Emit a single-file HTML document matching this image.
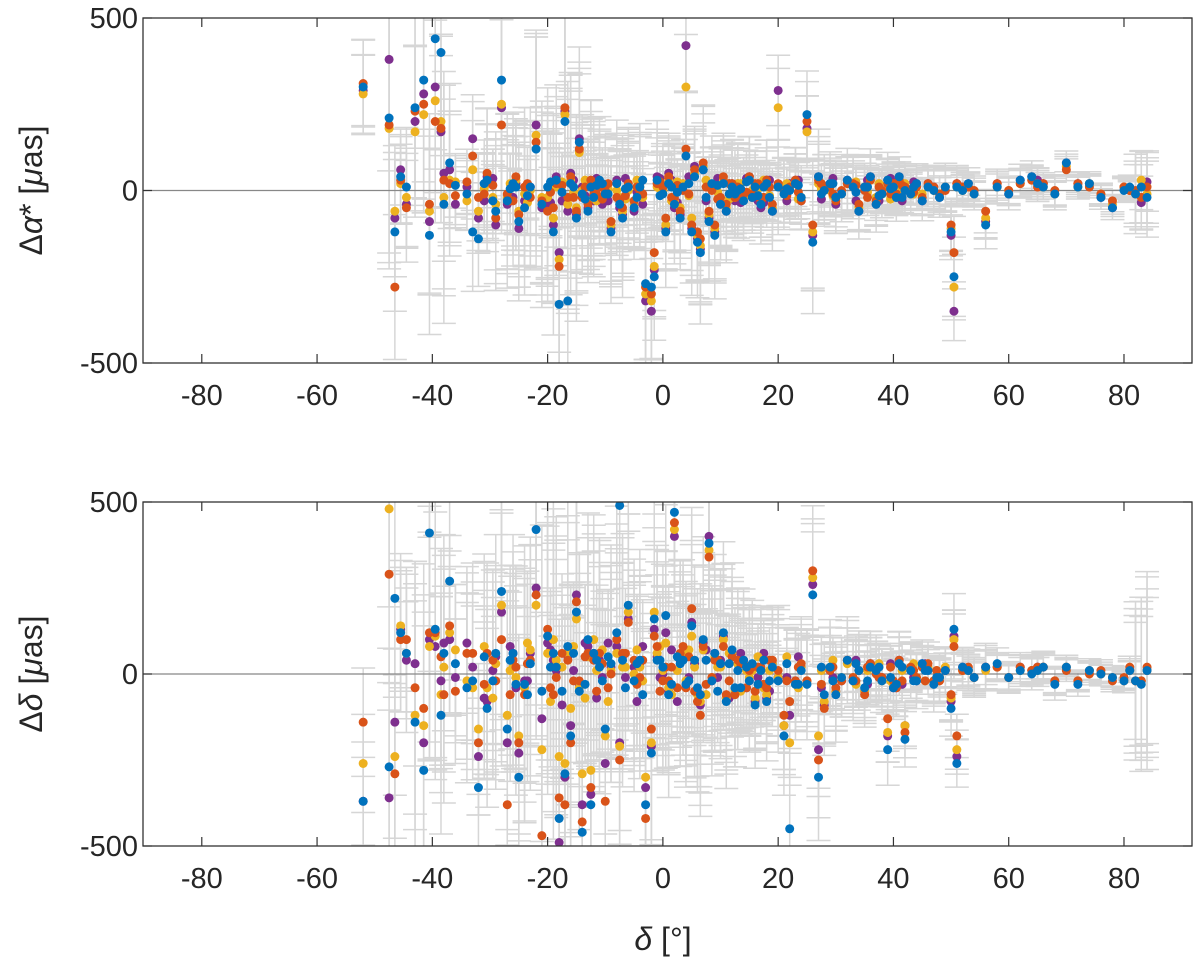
<!DOCTYPE html>
<html><head><meta charset="utf-8">
<style>
html,body{margin:0;padding:0;background:#fff;}
svg{display:block;font-family:"Liberation Sans",sans-serif;}
</style></head>
<body>
<svg id="chart" width="1200" height="965" viewBox="0 0 1200 965" xmlns="http://www.w3.org/2000/svg"></svg>
<script>
const dec=[-52,-47.5,-46.5,-45.5,-44.5,-43,-41.5,-40.5,-39.5,-38.5,-38,-37,-33,-32,-30.5,-29,-28,-27,-26,-25.5,-25,-24,-23,-22,-21,-20,-19,-18.5,-18,-17,-16.5,-16,-15,-14.5,-14,-13,-12.5,-12,-11,-10,-9,-8,-7.5,-7,-6,-5,-4,-3,-2,-1.5,-1,0,0.5,1,2,3,3.5,4,5,5.5,6,6.5,7,8,8.5,9,10,10.5,11,12,12.5,13,14,15,15.5,16,17,18,19,20,21,22,23,24,25,26,27,28,29,30,31,32,33,34,35,36,37,38,39,40,40.5,41,42,43,44,45,46,47,48,49,50,50.5,51,52,53,54,56,58,60,62,64,65,66,68,70,72,74,76,78,80,81,82,83,84,
-36,-34,-31,-29.5,-26.5,-23.5,-19.5,-17.5,-15.5,-13.5,-11.5,-10.5,-9.5,-6.5,-4.5,-3.5,-0.5,1.5,2.5,4.5,7.5,9.5,11.5,13.5,14.5,16.5,17.5,18.5,21.5,23.5,27.5,29.5,33.5,35.5,37.5,39.5,41.5,43.5,45.5,47.5];
const raB=[300,210,-120,40,10,240,320,-130,440,400,-40,80,-120,-140,30,-60,320,-30,20,10,-90,-50,10,120,-40,10,-120,30,-330,200,-320,20,-80,140,-10,-60,10,-20,30,-10,-120,20,-40,-80,10,-50,10,-270,-280,-250,30,-10,-120,20,-40,-80,10,100,-120,40,-150,-180,60,-90,20,-130,-40,20,-60,10,-10,0,-30,30,-20,10,-40,20,-60,10,-10,0,20,-20,220,-150,40,0,20,-20,-10,30,10,-60,10,40,-40,-10,30,10,-20,40,0,-10,20,-30,10,0,-20,10,-120,-250,10,0,20,-10,-100,10,-10,30,40,20,10,-10,80,10,20,-20,-50,0,10,-10,
10,-20,15,-10,20,-30,5,-15,25,-5,10,-25,15,20,-10,5,-20,30,-15,10,-5,20,-20,15,-10,5,25,-15,10,-20,5,15,-10,20,-5,10,-15,5,-20,10];
const raR=[310,190,-280,30,-50,230,250,-40,200,180,30,20,100,-20,50,-80,190,-10,-30,40,-70,10,-20,140,-30,-60,-50,20,-220,240,-20,40,-60,120,-20,-40,30,-10,10,0,-90,-20,-30,-50,20,-30,0,-280,-300,-180,20,10,-80,40,-20,-60,0,120,-100,60,-120,-140,80,-60,0,-100,-20,40,-40,20,-20,10,-10,40,-10,20,-30,30,-40,20,0,10,30,-30,200,-100,30,10,10,-30,0,20,20,-40,0,30,-30,0,20,20,-10,30,10,0,10,-20,20,10,-10,0,-100,-180,20,10,10,0,-60,20,0,20,30,10,20,0,60,20,10,-10,-30,10,0,0,
-20,10,-15,25,-10,15,-30,20,-5,15,-20,10,-10,-25,20,-15,10,-10,25,-20,15,-10,10,-25,20,-15,-5,20,-20,10,-15,-5,20,-10,15,-20,10,-10,15,-5];
const raY=[280,180,-60,20,-20,170,220,-60,260,200,-20,30,60,-60,20,-40,250,-20,10,30,-60,-10,0,160,-20,-20,-80,10,-200,220,-40,30,-50,110,0,-30,20,0,20,10,-100,0,-20,-60,0,-40,10,-300,-320,-220,10,0,-100,30,-30,-50,20,300,-80,50,-130,-160,70,-70,10,-110,-30,30,-50,10,-20,20,-20,30,0,10,-20,10,-50,240,10,10,20,-20,170,-120,20,0,0,-20,-10,20,10,-50,10,30,-20,-10,10,10,-10,30,20,-10,10,-10,10,0,-10,10,-110,-280,10,0,10,-10,-80,10,0,20,30,20,10,-10,70,10,20,-10,-40,10,0,-10,
30,-10,25,-30,5,-20,20,-35,10,25,-5,30,-30,10,5,-25,30,-20,5,-30,25,-15,30,-5,-25,20,-10,5,30,-15,20,-25,5,-15,25,-5,20,-25,5,-10];
const raP=[290,380,-80,60,-40,200,280,-90,300,170,50,60,150,-80,40,-100,240,-40,-20,20,-110,-30,10,190,-50,-40,-100,40,-180,230,-60,50,-70,150,10,-50,20,-30,20,-10,-110,30,-50,-70,10,-60,20,-320,-350,-230,40,0,-110,50,-50,-70,20,420,-110,70,-140,-170,60,-80,10,-120,-40,30,-60,20,-30,20,-20,40,-20,10,-50,30,-60,290,0,20,30,-30,180,-130,40,10,20,-40,-10,30,10,-60,10,40,-40,-10,30,20,-20,40,10,-10,20,-30,20,10,-20,10,-130,-350,20,10,20,-10,-90,20,-10,30,40,30,20,-10,80,20,20,-20,-50,10,0,-10,
-35,25,-40,10,-30,35,-20,5,-35,-30,30,-15,35,-40,-30,35,-5,-40,35,30,-35,40,-30,35,20,-35,35,-30,-35,30,-30,30,-25,35,-30,30,-30,35,-30,25];
const raE=[120,380,200,120,150,260,300,250,280,260,300,200,150,120,180,200,300,220,180,160,200,220,200,300,260,250,260,240,340,320,320,280,260,240,200,180,220,200,160,150,180,160,140,200,150,130,160,200,180,160,150,120,140,120,150,130,120,160,160,120,140,180,160,150,120,160,140,120,130,120,110,120,100,110,90,90,100,110,100,120,90,80,90,80,110,180,120,90,80,90,70,80,80,70,60,70,70,60,70,60,60,50,60,50,50,50,50,60,50,60,70,100,50,40,40,40,60,40,40,40,40,40,30,40,30,30,30,30,30,30,30,
100,90,100,80,90,110,100,90,100,120,90,80,100,80,90,70,80,90,70,80,90,70,80,70,60,70,60,80,60,60,60,50,60,50,50,50,50,40,40,40];
const deB=[-370,-270,220,120,60,-140,-280,410,130,-120,60,270,-20,-330,-100,60,240,-160,60,-30,-300,-30,30,420,-50,110,60,20,-420,-290,80,-180,180,-50,-460,100,-380,60,20,-160,30,120,490,40,200,-20,40,-380,-230,160,40,20,170,-60,470,30,40,-30,140,40,-40,-60,100,380,-20,60,30,120,-80,70,-40,10,40,-20,30,-90,10,-80,20,-20,-180,-450,-30,10,-30,230,-300,-60,20,-60,-10,40,-20,10,-40,20,10,-20,-220,-40,-30,30,-190,10,-20,30,10,-30,-10,10,-100,130,-260,20,10,-10,20,30,-10,10,0,10,20,-30,20,-30,10,0,-10,-20,10,-20,-30,10,
30,-40,50,-20,40,-60,20,-50,60,-30,40,-20,50,-40,30,-60,40,-30,50,-20,40,-50,30,-40,20,-30,40,-20,30,-30,20,-20,30,-20,20,-10,20,-20,10,-10];
const deR=[-140,290,-290,100,100,-40,-100,120,120,50,-60,140,60,-200,60,-20,100,-380,40,20,-200,-60,40,230,-470,130,-60,-10,-360,-380,40,-200,210,-20,-430,60,-330,40,60,-370,0,100,-250,60,150,40,-10,-420,-160,110,80,-20,20,-20,440,60,80,-40,190,-50,-80,-120,80,340,-10,40,30,80,-60,50,-60,40,30,10,20,-50,20,-40,40,10,-120,-80,-20,30,-20,300,-250,-100,10,-40,-20,40,-10,10,-60,30,0,-10,-130,-20,-40,40,-170,20,-10,20,30,-20,-20,10,-60,80,-180,10,20,-10,20,20,-10,20,10,20,20,-20,10,-20,0,10,-20,-10,20,-20,-20,20,
-50,60,-30,40,-60,30,-40,60,-20,50,-50,30,-40,60,-30,40,-50,20,-40,50,-30,40,-20,30,-40,20,-30,40,-20,20,-30,20,-20,20,-10,20,-20,10,-20,10];
const deY=[-260,480,-240,140,60,-120,-150,80,110,-60,20,120,-40,-160,-40,30,200,-120,20,-10,-180,-40,70,200,-220,60,100,40,-240,-260,60,-100,160,-40,-290,50,-280,100,20,-180,10,60,-210,20,180,0,20,-300,-200,180,60,10,90,-40,420,50,60,-20,110,20,-60,-80,70,360,-10,50,20,100,-70,60,-50,30,30,-10,10,-70,10,-60,30,-10,-150,-200,-30,20,-20,280,-180,-80,20,-50,-10,30,-10,10,-50,20,10,-20,-170,-30,-30,30,-150,20,-10,20,20,-20,-10,20,-70,100,-220,10,10,-10,10,20,-10,10,10,10,20,-20,20,-20,10,0,-10,-20,10,-20,-20,10,
70,-20,80,-70,10,90,-80,20,80,-70,10,70,-80,20,70,-20,80,-60,10,70,-60,20,60,-50,10,50,-40,10,50,-40,10,40,-30,10,30,-20,10,30,-20,10];
const deP=[-370,-360,-140,130,40,30,-200,100,80,-20,90,100,20,-240,-80,50,180,-200,60,-40,-230,-20,60,250,-130,90,40,10,-490,-300,50,-150,230,-30,-380,80,-350,60,40,-260,20,80,-200,50,160,20,30,-330,-210,130,50,0,120,-50,400,40,50,-30,150,30,-50,-90,90,400,-20,60,40,110,-70,60,-50,30,40,-20,20,-80,10,-70,30,-10,-150,-120,-20,20,-20,260,-220,-90,10,-50,-20,40,-20,10,-50,30,10,-10,-180,-40,-40,40,-150,10,-20,30,20,-20,-10,10,-80,110,-240,20,10,-10,20,20,-10,20,10,20,20,-20,20,-20,10,0,-10,-20,10,-20,-20,10,
-10,90,-70,10,80,-20,70,-90,10,90,-70,-10,90,-10,-80,80,-10,70,-80,-10,70,-10,-70,60,-40,-10,60,-50,-10,50,-40,-10,40,-30,-10,30,-30,-10,30,-20];
const deE=[150,300,250,200,200,350,400,350,380,300,300,250,250,200,250,300,350,350,300,280,300,350,320,400,420,400,400,380,420,420,400,380,380,350,350,320,350,350,320,300,300,320,300,320,300,280,280,350,320,300,280,260,280,260,300,260,240,260,280,240,250,280,260,280,240,250,240,230,220,220,200,200,180,180,160,160,160,150,150,180,150,130,140,130,140,180,160,130,120,120,100,110,100,100,90,90,90,80,90,80,80,80,70,70,70,60,60,70,60,60,70,90,60,50,50,50,60,40,40,40,40,40,40,40,30,30,30,30,30,30,30,
200,220,250,200,240,260,250,240,220,200,220,180,200,190,180,170,180,170,160,160,150,140,140,130,130,120,120,110,100,100,90,90,80,80,70,70,60,60,60,60];
const xTicks=[-80,-60,-40,-20,0,20,40,60,80];
const yTicks=[-500,0,500];

const NS='http://www.w3.org/2000/svg';
const svg=document.getElementById('chart');
const X0=143,X1=1192,XMIN=-90.2,XMAX=91.8;
function xs(v){return X0+(v-XMIN)/(XMAX-XMIN)*(X1-X0);}
function mk(tag,attrs,parent){const e=document.createElementNS(NS,tag);for(const k in attrs)e.setAttribute(k,attrs[k]);(parent||svg).appendChild(e);return e;}
const colors=['#7E2F8E','#EDB120','#D95319','#0072BD'];
const seriesNames=['series-purple','series-yellow','series-red','series-blue'];

function panel(top,bot,vals,err,name,labelParts){
  const g=mk('g',{});
  
  
  const ys=v=>top+(500-v)/1000*(bot-top);
  mk('rect',{x:X0,y:top,width:X1-X0,height:bot-top,fill:'#fff'},g);
  const eg=mk('g',{stroke:'#d6d6d6','stroke-width':1.5},g);
  
  
  const cp=mk('clipPath',{id:'c'+name},g);
  mk('rect',{x:X0,y:top,width:X1-X0,height:bot-top},cp);
  eg.setAttribute('clip-path','url(#c'+name+')');
  for(let s=0;s<4;s++){const arr=vals[s];for(let i=0;i<dec.length;i++){if(arr[i]===undefined||err[i]===undefined)continue;
    const x=xs(dec[i]),e=err[i]*(0.85+0.1*s);const y1=ys(arr[i]-e),y2=ys(arr[i]+e);
    mk('line',{x1:x,x2:x,y1:y1,y2:y2},eg);
    mk('line',{x1:x-12,x2:x+12,y1:y1,y2:y1},eg);
    mk('line',{x1:x-12,x2:x+12,y1:y2,y2:y2},eg);}}
  mk('line',{x1:X0,x2:X1,y1:ys(0),y2:ys(0),stroke:'#888','stroke-width':1.2},g);
  for(let s=0;s<4;s++){const sg=mk('g',{fill:colors[s],'clip-path':'url(#c'+name+')'},g);
    
    
    const arr=vals[s];for(let i=0;i<dec.length;i++){if(arr[i]===undefined)continue;
      const c=mk('circle',{cx:xs(dec[i]),cy:ys(arr[i]),r:4.5},sg);
      
      }}
  mk('rect',{x:X0,y:top,width:X1-X0,height:bot-top,fill:'none',stroke:'#333','stroke-width':1.3},g);
  for(const t of xTicks){const x=xs(t);mk('line',{x1:x,x2:x,y1:bot,y2:bot-9,stroke:'#333','stroke-width':1.2},g);mk('line',{x1:x,x2:x,y1:top,y2:top+9,stroke:'#333','stroke-width':1.2},g);
    const tx=mk('text',{x:x,y:bot+42,'text-anchor':'middle','font-size':29,fill:'#262626'},g);tx.textContent=String(t);
    
    }
  for(const t of yTicks){const y=ys(t);mk('line',{x1:X0,x2:X0+9,y1:y,y2:y,stroke:'#333','stroke-width':1.2},g);mk('line',{x1:X1,x2:X1-9,y1:y,y2:y,stroke:'#333','stroke-width':1.2},g);
    const tx=mk('text',{x:138,y:y+10,'text-anchor':'end','font-size':29,fill:'#262626'},g);tx.textContent=String(t);
    
    }
  const yl=mk('text',{transform:'translate(42,'+((top+bot)/2)+') rotate(-90)','text-anchor':'middle','font-size':32,fill:'#262626'},g);
  
  
  yl.innerHTML=labelParts;
}
panel(18,363,[raP,raY,raR,raB],raE,'top-panel-ra','Δ<tspan font-style="italic">α</tspan>* [<tspan font-style="italic">μ</tspan>as]');
panel(502,846,[deP,deY,deR,deB],deE,'bottom-panel-dec','Δ<tspan font-style="italic">δ</tspan> [<tspan font-style="italic">μ</tspan>as]');
const xl=mk('text',{x:663,y:950,'text-anchor':'middle','font-size':32,fill:'#262626'});


xl.innerHTML='<tspan font-style="italic">δ</tspan> [°]';
</script>
</body></html>
